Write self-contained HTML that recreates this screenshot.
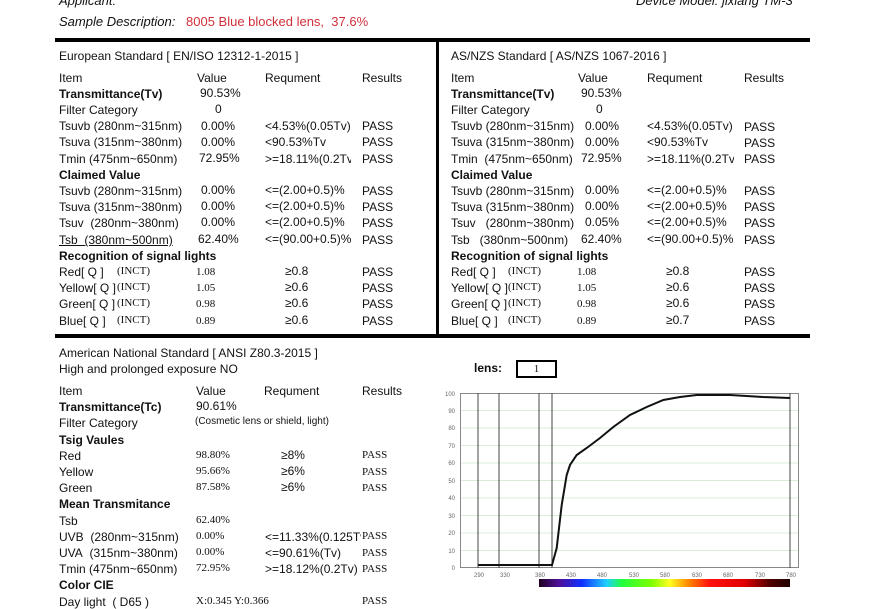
<!DOCTYPE html>
<html><head><meta charset="utf-8"><style>
body{margin:0;width:887px;height:606px;overflow:hidden;background:#fff;font-family:"Liberation Sans",sans-serif;font-size:12px;color:#111;position:relative}
div{position:absolute;white-space:nowrap;line-height:14px}
.b{font-weight:bold}
.s{font-family:"Liberation Serif",serif;font-size:11px}
.k{background:#000}
</style></head><body>
<div style="left:59px;top:-6px;font-style:italic;font-size:13px">Applicant:</div>
<div style="left:636px;top:-6px;font-style:italic;font-size:13px">Device Model: jixiang TM-3</div>
<div style="left:59px;top:15px;font-style:italic;font-size:13px">Sample Description:</div>
<div style="left:186px;top:15px;color:#d0303a;font-size:13px">8005 Blue blocked lens,&nbsp; 37.6%</div>
<div class="k" style="left:55px;top:38px;width:755px;height:4px"></div>
<div class="k" style="left:436px;top:38px;width:3px;height:298px"></div>
<div class="k" style="left:55px;top:334px;width:755px;height:4px"></div>

<!-- Left EU -->
<div style="left:59px;top:49px">European Standard [ EN/ISO 12312-1-2015 ]</div>
<div style="left:59px;top:71px">Item</div><div style="left:197px;top:71px">Value</div><div style="left:265px;top:71px">Requment</div><div style="left:362px;top:71px">Results</div>
<div class="b" style="left:59px;top:87px">Transmittance(Tv)</div><div style="left:200px;top:86px">90.53%</div>
<div style="left:59px;top:103px">Filter Category</div><div style="left:215px;top:102px">0</div>
<div style="left:59px;top:119px">Tsuvb (280nm~315nm)</div><div style="left:201px;top:119px">0.00%</div><div style="left:265px;top:119px">&lt;4.53%(0.05Tv)</div><div style="left:362px;top:119px">PASS</div>
<div style="left:59px;top:135px">Tsuva (315nm~380nm)</div><div style="left:201px;top:135px">0.00%</div><div style="left:265px;top:135px">&lt;90.53%Tv</div><div style="left:362px;top:135px">PASS</div>
<div style="left:59px;top:152px">Tmin (475nm~650nm)</div><div style="left:199px;top:151px">72.95%</div><div style="left:265px;top:152px;width:86px;overflow:hidden">&gt;=18.11%(0.2Tv)</div><div style="left:362px;top:152px">PASS</div>
<div class="b" style="left:59px;top:168px">Claimed Value</div>
<div style="left:59px;top:184px">Tsuvb (280nm~315nm)</div><div style="left:201px;top:183px">0.00%</div><div style="left:265px;top:183px">&lt;=(2.00+0.5)%</div><div style="left:362px;top:184px">PASS</div>
<div style="left:59px;top:200px">Tsuva (315nm~380nm)</div><div style="left:201px;top:199px">0.00%</div><div style="left:265px;top:199px">&lt;=(2.00+0.5)%</div><div style="left:362px;top:200px">PASS</div>
<div style="left:59px;top:216px">Tsuv&nbsp; (280nm~380nm)</div><div style="left:201px;top:215px">0.00%</div><div style="left:265px;top:215px">&lt;=(2.00+0.5)%</div><div style="left:362px;top:216px">PASS</div>
<div style="left:59px;top:233px;text-decoration:underline">Tsb&nbsp; (380nm~500nm)</div><div style="left:198px;top:232px">62.40%</div><div style="left:265px;top:232px">&lt;=(90.00+0.5)%</div><div style="left:362px;top:233px">PASS</div>
<div class="b" style="left:59px;top:249px">Recognition of signal lights</div>
<div style="left:59px;top:265px">Red[ Q ]</div><div class="s" style="left:117px;top:264px">(INCT)</div><div class="s" style="left:196px;top:265px">1.08</div><div style="left:285px;top:264px">≥0.8</div><div style="left:362px;top:265px">PASS</div>
<div style="left:59px;top:281px">Yellow[ Q ]</div><div class="s" style="left:117px;top:280px">(INCT)</div><div class="s" style="left:196px;top:281px">1.05</div><div style="left:285px;top:280px">≥0.6</div><div style="left:362px;top:281px">PASS</div>
<div style="left:59px;top:297px">Green[ Q ]</div><div class="s" style="left:117px;top:296px">(INCT)</div><div class="s" style="left:196px;top:297px">0.98</div><div style="left:285px;top:296px">≥0.6</div><div style="left:362px;top:297px">PASS</div>
<div style="left:59px;top:314px">Blue[ Q ]</div><div class="s" style="left:117px;top:313px">(INCT)</div><div class="s" style="left:196px;top:314px">0.89</div><div style="left:285px;top:313px">≥0.6</div><div style="left:362px;top:314px">PASS</div>

<!-- Right AS/NZS -->
<div style="left:451px;top:49px">AS/NZS Standard [ AS/NZS 1067-2016 ]</div>
<div style="left:451px;top:71px">Item</div><div style="left:578px;top:71px">Value</div><div style="left:647px;top:71px">Requment</div><div style="left:744px;top:71px">Results</div>
<div class="b" style="left:451px;top:87px">Transmittance(Tv)</div><div style="left:581px;top:86px">90.53%</div>
<div style="left:451px;top:103px">Filter Category</div><div style="left:596px;top:102px">0</div>
<div style="left:451px;top:119px">Tsuvb (280nm~315nm)</div><div style="left:585px;top:119px">0.00%</div><div style="left:647px;top:119px">&lt;4.53%(0.05Tv)</div><div style="left:744px;top:120px">PASS</div>
<div style="left:451px;top:135px">Tsuva (315nm~380nm)</div><div style="left:585px;top:135px">0.00%</div><div style="left:647px;top:135px">&lt;90.53%Tv</div><div style="left:744px;top:136px">PASS</div>
<div style="left:451px;top:152px">Tmin&nbsp; (475nm~650nm)</div><div style="left:581px;top:151px">72.95%</div><div style="left:647px;top:152px;width:87px;overflow:hidden">&gt;=18.11%(0.2Tv)</div><div style="left:744px;top:152px">PASS</div>
<div class="b" style="left:451px;top:168px">Claimed Value</div>
<div style="left:451px;top:184px">Tsuvb (280nm~315nm)</div><div style="left:585px;top:183px">0.00%</div><div style="left:647px;top:183px">&lt;=(2.00+0.5)%</div><div style="left:744px;top:184px">PASS</div>
<div style="left:451px;top:200px">Tsuva (315nm~380nm)</div><div style="left:585px;top:199px">0.00%</div><div style="left:647px;top:199px">&lt;=(2.00+0.5)%</div><div style="left:744px;top:200px">PASS</div>
<div style="left:451px;top:216px">Tsuv&nbsp;&nbsp; (280nm~380nm)</div><div style="left:585px;top:215px">0.05%</div><div style="left:647px;top:215px">&lt;=(2.00+0.5)%</div><div style="left:744px;top:216px">PASS</div>
<div style="left:451px;top:233px">Tsb&nbsp;&nbsp; (380nm~500nm)</div><div style="left:581px;top:232px">62.40%</div><div style="left:647px;top:232px">&lt;=(90.00+0.5)%</div><div style="left:744px;top:233px">PASS</div>
<div class="b" style="left:451px;top:249px">Recognition of signal lights</div>
<div style="left:451px;top:265px">Red[ Q ]</div><div class="s" style="left:508px;top:264px">(INCT)</div><div class="s" style="left:577px;top:265px">1.08</div><div style="left:666px;top:264px">≥0.8</div><div style="left:744px;top:265px">PASS</div>
<div style="left:451px;top:281px">Yellow[ Q ]</div><div class="s" style="left:508px;top:280px">(INCT)</div><div class="s" style="left:577px;top:281px">1.05</div><div style="left:666px;top:280px">≥0.6</div><div style="left:744px;top:281px">PASS</div>
<div style="left:451px;top:297px">Green[ Q ]</div><div class="s" style="left:508px;top:296px">(INCT)</div><div class="s" style="left:577px;top:297px">0.98</div><div style="left:666px;top:296px">≥0.6</div><div style="left:744px;top:297px">PASS</div>
<div style="left:451px;top:314px">Blue[ Q ]</div><div class="s" style="left:508px;top:313px">(INCT)</div><div class="s" style="left:577px;top:314px">0.89</div><div style="left:666px;top:313px">≥0.7</div><div style="left:744px;top:314px">PASS</div>

<!-- ANSI -->
<div style="left:59px;top:346px">American National Standard [ ANSI Z80.3-2015 ]</div>
<div style="left:59px;top:362px">High and prolonged exposure NO</div>
<div style="left:59px;top:384px">Item</div><div style="left:196px;top:384px">Value</div><div style="left:264px;top:384px">Requment</div><div style="left:362px;top:384px">Results</div>
<div class="b" style="left:59px;top:400px">Transmittance(Tc)</div><div style="left:196px;top:399px">90.61%</div>
<div style="left:59px;top:416px">Filter Category</div><div style="left:195px;top:415px;font-size:10px">(Cosmetic lens or shield, light)</div>
<div class="b" style="left:59px;top:433px">Tsig Vaules</div>
<div style="left:59px;top:449px">Red</div><div class="s" style="left:196px;top:448px">98.80%</div><div style="left:281px;top:448px">≥8%</div><div class="s" style="left:362px;top:448px">PASS</div>
<div style="left:59px;top:465px">Yellow</div><div class="s" style="left:196px;top:464px">95.66%</div><div style="left:281px;top:464px">≥6%</div><div class="s" style="left:362px;top:465px">PASS</div>
<div style="left:59px;top:481px">Green</div><div class="s" style="left:196px;top:480px">87.58%</div><div style="left:281px;top:480px">≥6%</div><div class="s" style="left:362px;top:481px">PASS</div>
<div class="b" style="left:59px;top:497px">Mean Transmitance</div>
<div style="left:59px;top:514px">Tsb</div><div class="s" style="left:196px;top:513px">62.40%</div>
<div style="left:59px;top:530px">UVB&nbsp; (280nm~315nm)</div><div class="s" style="left:196px;top:529px">0.00%</div><div style="left:265px;top:530px;width:96px;overflow:hidden">&lt;=11.33%(0.125Tv)</div><div class="s" style="left:362px;top:529px">PASS</div>
<div style="left:59px;top:546px">UVA&nbsp; (315nm~380nm)</div><div class="s" style="left:196px;top:545px">0.00%</div><div style="left:265px;top:546px">&lt;=90.61%(Tv)</div><div class="s" style="left:362px;top:546px">PASS</div>
<div style="left:59px;top:562px">Tmin (475nm~650nm)</div><div class="s" style="left:196px;top:561px">72.95%</div><div style="left:265px;top:562px">&gt;=18.12%(0.2Tv)</div><div class="s" style="left:362px;top:562px">PASS</div>
<div class="b" style="left:59px;top:578px">Color CIE</div>
<div style="left:59px;top:595px">Day light&nbsp; ( D65 )</div><div class="s" style="left:196px;top:594px">X:0.345 Y:0.366</div><div class="s" style="left:362px;top:594px">PASS</div>

<!-- Chart -->
<div class="b" style="left:474px;top:361px">lens:</div>
<div style="left:516px;top:360px;width:37px;height:14px;border:2px solid #000;text-align:center;font-family:'Liberation Serif',serif;font-size:11px;line-height:14px">1</div>
<svg style="position:absolute;left:0;top:0" width="887" height="606">
<g stroke="#d8ecd8" stroke-width="1">
<line x1="460" x2="798" y1="410.5" y2="410.5"/><line x1="460" x2="798" y1="428" y2="428"/><line x1="460" x2="798" y1="445.5" y2="445.5"/><line x1="460" x2="798" y1="463" y2="463"/><line x1="460" x2="798" y1="480.5" y2="480.5"/><line x1="460" x2="798" y1="498" y2="498"/><line x1="460" x2="798" y1="515.5" y2="515.5"/><line x1="460" x2="798" y1="533" y2="533"/><line x1="460" x2="798" y1="550.5" y2="550.5"/>
</g>
<rect x="460.5" y="393.5" width="338" height="174" fill="none" stroke="#888" stroke-width="1"/>
<g stroke="#444" stroke-width="1">
<line x1="478" x2="478" y1="393" y2="568"/><line x1="499" x2="499" y1="393" y2="568"/><line x1="539" x2="539" y1="393" y2="568"/><line x1="552" x2="552" y1="393" y2="568"/><line x1="790" x2="790" y1="393" y2="568"/>
</g>
<polyline fill="none" stroke="#111" stroke-width="2" points="478,565 552,565 556.7,548 561.7,505 566.7,475 570,465 576.7,455 586.7,448 600,438 613.3,427 630,415 646.7,407 663.3,400 680,397 696.7,395 730,395 763.3,397 790,398"/>
<g font-family="Liberation Sans" font-size="6" fill="#666" text-anchor="end">
<text x="455" y="396">100</text><text x="455" y="413">90</text><text x="455" y="430">80</text><text x="455" y="448">70</text><text x="455" y="465">60</text><text x="455" y="483">50</text><text x="455" y="500">40</text><text x="455" y="518">30</text><text x="455" y="535">20</text><text x="455" y="553">10</text><text x="455" y="570">0</text>
</g>
<g font-family="Liberation Sans" font-size="6" fill="#666" text-anchor="middle">
<text x="479" y="577">290</text><text x="505" y="577">330</text><text x="540" y="577">380</text><text x="571" y="577">430</text><text x="602" y="577">480</text><text x="634" y="577">530</text><text x="665" y="577">580</text><text x="697" y="577">630</text><text x="728" y="577">680</text><text x="760" y="577">730</text><text x="791" y="577">780</text>
</g>
<defs><linearGradient id="sp" x1="0" x2="1">
<stop offset="0" stop-color="#200020"/><stop offset="0.08" stop-color="#50109a"/><stop offset="0.17" stop-color="#1030ff"/><stop offset="0.27" stop-color="#20d0ff"/><stop offset="0.33" stop-color="#20ff40"/><stop offset="0.45" stop-color="#80ff00"/><stop offset="0.52" stop-color="#ffff20"/><stop offset="0.6" stop-color="#ff8000"/><stop offset="0.68" stop-color="#ff1010"/><stop offset="0.82" stop-color="#e00000"/><stop offset="0.92" stop-color="#500000"/><stop offset="1" stop-color="#200000"/>
</linearGradient></defs>
<rect x="539" y="579" width="251" height="8" fill="url(#sp)"/>
</svg>
</body></html>
